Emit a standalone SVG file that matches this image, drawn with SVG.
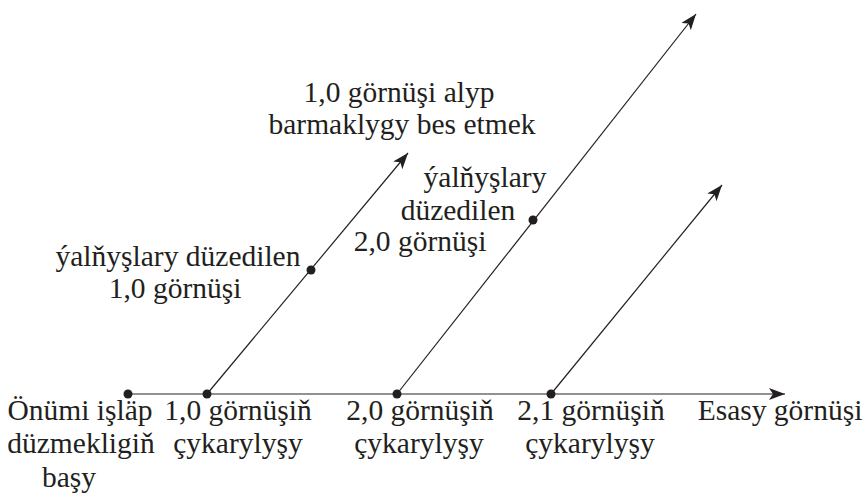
<svg xmlns="http://www.w3.org/2000/svg" width="864" height="496" viewBox="0 0 864 496">
<style>
text{font-size:29.5px;fill:#231f20;text-anchor:middle}
.axis{stroke:#6d6d6d;stroke-width:1.6;fill:none}
.diag{stroke:#231f20;stroke-width:1.2;fill:none}
.dot{fill:#231f20}
</style>
<defs>
<marker id="ah" markerUnits="userSpaceOnUse" markerWidth="18" markerHeight="14" refX="16" refY="6" orient="auto">
<path d="M0,0 L16,6 L0,12 L4,6 Z" fill="#231f20"/>
</marker>
</defs>
<g id="connectors">
<line class="axis" x1="128" y1="394" x2="785" y2="394" marker-end="url(#ah)"/>
<line class="diag" x1="207" y1="394" x2="408" y2="153" marker-end="url(#ah)"/>
<line class="diag" x1="397" y1="394" x2="696" y2="14" marker-end="url(#ah)"/>
<line class="diag" x1="551" y1="394" x2="722" y2="185" marker-end="url(#ah)"/>
</g>
<g font-family="Liberation Serif, Times New Roman, serif">
<g id="start">
<circle class="dot" cx="128" cy="394" r="4.5"/>
<text x="80" y="420">Önümi işläp</text>
<text x="81" y="453">düzmekligiň</text>
<text x="69" y="487">başy</text>
</g>
<g id="release10">
<circle class="dot" cx="207" cy="394" r="4.5"/>
<text x="238" y="420">1,0 görnüşiň</text>
<text x="238" y="453">çykarylyşy</text>
</g>
<g id="release20">
<circle class="dot" cx="397" cy="394" r="4.5"/>
<text x="420" y="420">2,0 görnüşiň</text>
<text x="419" y="453">çykarylyşy</text>
</g>
<g id="release21">
<circle class="dot" cx="551" cy="394" r="4.5"/>
<text x="591" y="420">2,1 görnüşiň</text>
<text x="590" y="453">çykarylyşy</text>
</g>
<g id="main">
<text x="780" y="420">Esasy görnüşi</text>
</g>
<g id="fixed10">
<circle class="dot" cx="311" cy="270" r="4.5"/>
<text x="178" y="266">ýalňyşlary düzedilen</text>
<text x="175" y="298">1,0 görnüşi</text>
</g>
<g id="stop10">
<text x="399" y="102">1,0 görnüşi alyp</text>
<text x="402" y="134">barmaklygy bes etmek</text>
</g>
<g id="fixed20">
<circle class="dot" cx="533" cy="220" r="4.5"/>
<text x="485" y="187">ýalňyşlary</text>
<text x="458" y="220">düzedilen</text>
<text x="420" y="251">2,0 görnüşi</text>
</g>
</g>
</svg>
